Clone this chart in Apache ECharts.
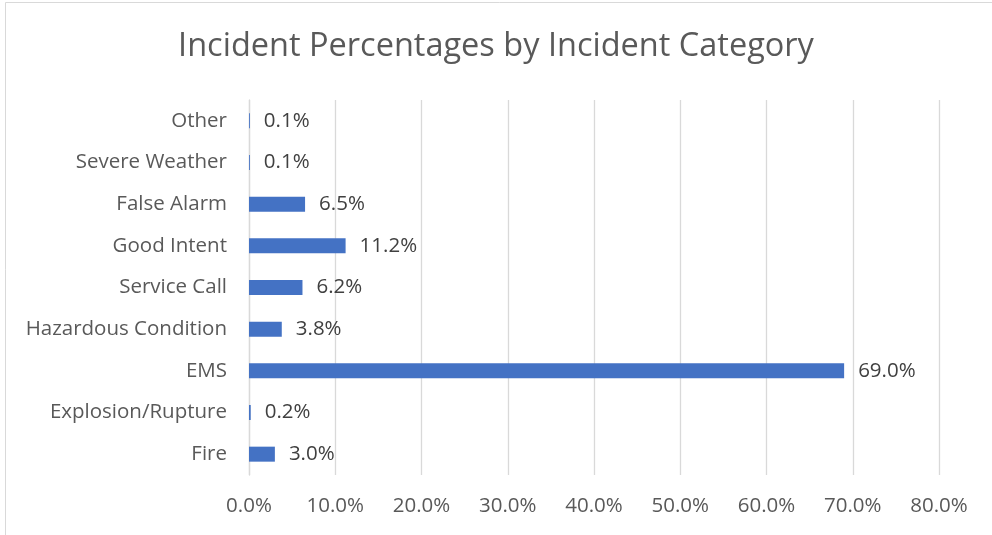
<!DOCTYPE html>
<html><head><meta charset="utf-8">
<script src="https://cdn.jsdelivr.net/npm/echarts@6/dist/echarts.min.js"></script>
<style>html,body{margin:0;padding:0;background:#fff}#c{width:992px;height:535px}</style>
</head><body><div id="c"></div>
<script>
const categories = ['Fire','Explosion/Rupture','EMS','Hazardous Condition','Service Call','Good Intent','False Alarm','Severe Weather','Other'];
const percentages = [3.0, 0.2, 69.0, 3.8, 6.2, 11.2, 6.5, 0.1, 0.1];
const xTicks = [0,10,20,30,40,50,60,70,80];
const titleText = 'Incident Percentages by Incident Category';
const FONT = 'Open Sans';
const chart = echarts.init(document.getElementById('c'), null, {renderer:'canvas'});
chart.setOption({
  animation:false,
  backgroundColor:'#fff',
  graphic:[{type:'rect',shape:{x:5.5,y:2.5,width:1000,height:1000},style:{fill:'none',stroke:'#d9d9d9',lineWidth:1},silent:true}],
  title:{text:titleText,left:'center',top:25,textStyle:{fontFamily:FONT,fontSize:32.5,fontWeight:'normal',color:'#595959'}},
  grid:{left:249,right:53,top:100,bottom:60,containLabel:false},
  xAxis:{type:'value',min:xTicks[0],max:xTicks[xTicks.length-1],interval:10,
    axisLine:{show:false},axisTick:{show:false},
    splitLine:{show:true,lineStyle:{color:'#d9d9d9',width:1.3}},
    axisLabel:{margin:21,fontFamily:FONT,fontSize:20.5,color:'#595959',formatter:v=>v.toFixed(1)+'%'}},
  yAxis:{type:'category',data:categories,
    axisLine:{show:true,lineStyle:{color:'#d9d9d9',width:1.3}},axisTick:{show:false},
    axisLabel:{margin:22,fontFamily:FONT,fontSize:20.5,color:'#595959'}},
  series:[{type:'bar',data:percentages,barWidth:15,
    itemStyle:{color:'#4472C4'},
    label:{show:true,position:'right',distance:14,fontFamily:FONT,fontSize:20.5,color:'#404040',formatter:p=>p.value.toFixed(1)+'%'}}]
});
</script></body></html>
